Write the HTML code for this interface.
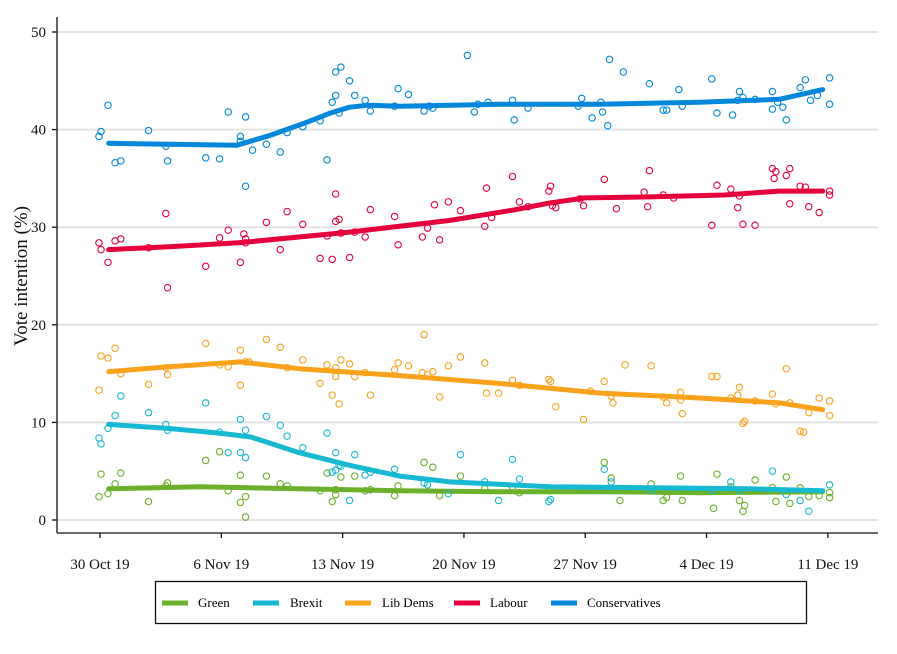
<!DOCTYPE html>
<html><head><meta charset="utf-8"><style>
body{margin:0;background:#fff}
svg{display:block;font-family:"Liberation Serif",serif}
</style></head><body>
<svg id="chart" width="897" height="654" viewBox="0 0 897 654">
<g id="grid"></g><g id="axes"></g><g id="marks"></g>
<text x="27" y="276" transform="rotate(-90 27 276)" text-anchor="middle" font-size="19" fill="#111">Vote intention (%)</text>
<g>
<rect x="155.5" y="581.5" width="651" height="42" fill="#fff" stroke="#111" stroke-width="1.3"/>
<g><line x1="162" x2="188" y1="603" y2="603" stroke="#6bb02a" stroke-width="5"/><text x="198" y="607" font-size="13">Green</text></g>
<g><line x1="253" x2="279" y1="603" y2="603" stroke="#17b8d2" stroke-width="5"/><text x="290" y="607" font-size="13">Brexit</text></g>
<g><line x1="345" x2="371" y1="603" y2="603" stroke="#faa21b" stroke-width="5"/><text x="382" y="607" font-size="13">Lib Dems</text></g>
<g><line x1="454" x2="480" y1="603" y2="603" stroke="#e5003c" stroke-width="5"/><text x="490" y="607" font-size="13">Labour</text></g>
<g><line x1="551" x2="577" y1="603" y2="603" stroke="#0087dc" stroke-width="5"/><text x="587" y="607" font-size="13">Conservatives</text></g>
</g>
</svg>
<script>
const yTicks=[0,10,20,30,40,50];
const xTickDays=[0,7,14,21,28,35,42];
const xTickLabels=["30 Oct 19","6 Nov 19","13 Nov 19","20 Nov 19","27 Nov 19","4 Dec 19","11 Dec 19"];
const partyNames=["Green","Brexit","Lib Dems","Labour","Conservatives"];
const partyColors=["#6bb02a","#17b8d2","#faa21b","#e5003c","#0087dc"];
const conPoints=[[-0.06,39.3],[0.06,39.8],[0.46,42.5],[0.87,36.6],[1.2,36.8],[2.8,39.9],[3.8,38.3],[3.9,36.8],[6.1,37.1],[6.9,37.0],[7.4,41.8],[8.1,39.3],[8.1,38.8],[8.4,41.3],[8.4,34.2],[8.8,37.9],[9.6,38.5],[10.4,37.7],[10.8,39.7],[11.7,40.3],[12.7,40.9],[13.1,36.9],[13.4,42.8],[13.6,43.5],[13.6,45.9],[13.8,41.7],[13.9,46.4],[14.4,45.0],[14.7,43.5],[15.3,43.0],[15.6,41.9],[17.0,42.4],[17.2,44.2],[17.8,43.6],[18.7,41.9],[19.0,42.4],[19.2,42.2],[21.2,47.6],[21.6,41.8],[21.8,42.6],[22.4,42.8],[23.8,43.0],[23.9,41.0],[24.7,42.2],[27.6,42.4],[27.8,43.2],[28.4,41.2],[28.9,42.8],[29.0,41.8],[29.3,40.4],[29.4,47.2],[30.2,45.9],[31.7,44.7],[32.5,42.0],[32.7,42.0],[33.4,44.1],[33.6,42.4],[35.3,45.2],[35.6,41.7],[36.5,41.5],[36.8,43.0],[36.9,43.9],[37.1,43.3],[37.8,43.1],[38.8,43.9],[38.8,42.1],[39.1,42.8],[39.4,42.3],[39.6,41.0],[40.4,44.3],[40.7,45.1],[41.0,43.0],[41.4,43.5],[42.1,45.3],[42.1,42.6]];
const labPoints=[[-0.06,28.4],[0.06,27.7],[0.46,26.4],[0.87,28.6],[1.2,28.8],[2.8,27.9],[3.8,31.4],[3.9,23.8],[6.1,26.0],[6.9,28.9],[7.4,29.7],[8.1,26.4],[8.3,29.3],[8.4,28.8],[8.4,28.4],[9.6,30.5],[10.4,27.7],[10.8,31.6],[11.7,30.3],[12.7,26.8],[13.1,29.1],[13.4,26.7],[13.6,30.6],[13.6,33.4],[13.8,30.8],[13.9,29.4],[14.4,26.9],[14.7,29.5],[15.3,29.0],[15.6,31.8],[17.0,31.1],[17.2,28.2],[18.6,29.0],[18.9,29.9],[19.3,32.3],[19.6,28.7],[20.1,32.6],[20.8,31.7],[22.2,30.1],[22.3,34.0],[22.6,31.0],[23.8,35.2],[24.2,32.6],[24.7,32.1],[25.9,33.7],[26.0,34.2],[26.1,32.2],[26.3,32.0],[27.7,32.9],[27.9,32.2],[29.1,34.9],[29.8,31.9],[31.4,33.6],[31.6,32.1],[31.7,35.8],[32.5,33.3],[33.1,33.0],[35.3,30.2],[35.6,34.3],[36.4,33.9],[36.9,33.2],[37.1,30.3],[36.8,32.0],[37.8,30.2],[38.8,36.0],[38.9,35.0],[39.0,35.7],[39.6,35.3],[39.8,36.0],[39.8,32.4],[40.4,34.2],[40.7,34.1],[40.9,32.1],[41.5,31.5],[42.1,33.7],[42.1,33.3]];
const ldPoints=[[-0.06,13.3],[0.06,16.8],[0.46,16.6],[0.87,17.6],[1.2,15.0],[2.8,13.9],[3.8,15.6],[3.9,14.9],[6.1,18.1],[6.9,15.9],[7.4,15.7],[8.1,17.4],[8.1,13.8],[8.4,16.2],[8.6,16.2],[9.6,18.5],[10.4,17.7],[10.8,15.6],[11.7,16.4],[12.7,14.0],[13.1,15.9],[13.4,12.8],[13.6,15.6],[13.6,14.7],[13.8,11.9],[13.9,16.4],[14.4,16.0],[14.7,14.7],[15.3,15.1],[15.6,12.8],[17.0,15.4],[17.2,16.1],[17.8,15.8],[18.6,15.1],[18.9,14.9],[18.7,19.0],[19.2,15.2],[19.6,12.6],[20.1,15.8],[20.8,16.7],[22.2,16.1],[22.3,13.0],[23.0,13.0],[23.8,14.3],[24.2,13.8],[25.9,14.4],[26.0,14.2],[26.3,11.6],[27.9,10.3],[28.3,13.2],[29.1,14.2],[29.5,12.7],[29.6,12.0],[30.3,15.9],[31.8,15.8],[32.5,12.6],[32.7,12.0],[33.5,12.3],[33.5,13.1],[33.6,10.9],[35.3,14.7],[35.6,14.7],[36.4,12.5],[36.8,12.8],[36.9,13.6],[37.1,9.9],[37.2,10.1],[37.8,12.2],[38.8,12.9],[39.0,11.9],[39.6,15.5],[39.8,12.0],[40.4,9.1],[40.6,9.0],[40.9,11.0],[41.5,12.5],[42.1,12.2],[42.1,10.7]];
const brxPoints=[[-0.06,8.4],[0.06,7.8],[0.46,9.4],[0.87,10.7],[1.2,12.7],[2.8,11.0],[3.8,9.8],[3.9,9.2],[6.1,12.0],[6.9,9.0],[7.4,6.9],[8.1,10.3],[8.1,6.9],[8.4,9.2],[8.4,6.4],[9.6,10.6],[10.4,9.7],[10.8,8.6],[11.7,7.4],[13.1,8.9],[13.4,4.9],[13.6,5.1],[13.6,6.9],[13.8,5.6],[13.9,5.5],[14.4,2.0],[14.7,6.7],[15.3,4.6],[15.6,4.9],[17.0,5.2],[18.7,3.8],[18.9,3.6],[20.1,2.7],[20.8,6.7],[22.2,3.9],[23.0,2.0],[23.8,6.2],[24.2,4.2],[25.9,1.9],[26.0,2.1],[29.1,5.2],[29.5,3.9],[31.8,3.0],[35.3,3.0],[36.4,3.9],[36.9,3.0],[38.8,5.0],[39.6,2.6],[40.4,2.0],[40.9,0.9],[42.1,3.6]];
const grnPoints=[[-0.06,2.4],[0.06,4.7],[0.46,2.7],[0.87,3.7],[1.2,4.8],[2.8,1.9],[3.8,3.5],[3.9,3.8],[6.1,6.1],[6.9,7.0],[7.4,3.0],[8.1,4.6],[8.1,1.8],[8.4,2.4],[8.4,0.3],[9.6,4.5],[10.4,3.7],[10.8,3.5],[12.7,3.0],[13.1,4.8],[13.4,1.9],[13.6,2.6],[13.6,3.1],[13.9,4.4],[14.7,4.5],[15.3,3.0],[15.6,3.1],[17.0,2.5],[17.2,3.5],[18.7,5.9],[19.2,5.4],[19.6,2.5],[20.8,4.5],[22.2,3.2],[23.8,3.4],[24.2,2.8],[25.9,3.0],[29.1,5.9],[29.5,4.3],[30.0,2.0],[31.8,3.7],[32.5,2.0],[32.7,2.3],[33.5,4.5],[33.6,2.0],[35.3,3.1],[35.6,4.7],[35.4,1.2],[36.4,3.4],[36.9,2.0],[37.1,0.9],[37.2,1.5],[37.8,4.1],[38.8,3.3],[39.0,1.9],[39.6,4.4],[39.8,1.7],[40.4,3.3],[40.9,2.4],[41.5,2.5],[42.1,2.8],[42.1,2.3]];
const conTrend=[[0.5,38.6],[4,38.5],[7.9,38.4],[9.8,39.4],[12,40.8],[13.3,41.7],[14.4,42.3],[15.5,42.5],[17.3,42.4],[23.1,42.6],[28.9,42.6],[34.6,42.8],[39.2,43.1],[41.7,44.1]];
const labTrend=[[0.5,27.7],[4,28.0],[8,28.4],[14.4,29.5],[20.2,30.7],[24,31.8],[26,32.5],[28,33.0],[31.7,33.1],[36,33.3],[39.2,33.7],[41.7,33.7]];
const ldTrend=[[0.5,15.2],[4,15.7],[8.1,16.2],[11.5,15.5],[17.3,14.8],[23,14.0],[28.9,13.0],[34.6,12.5],[39.2,12.0],[41.7,11.3]];
const brxTrend=[[0.5,9.8],[3.8,9.4],[6.9,8.9],[8.7,8.5],[11.5,6.9],[14.4,5.6],[17.3,4.5],[20.2,3.9],[26,3.4],[31.7,3.3],[37.5,3.2],[41.7,3.0]];
const grnTrend=[[0.5,3.2],[5.8,3.4],[11.5,3.2],[17.3,3.0],[23,2.9],[28.9,2.9],[34.6,2.8],[41.7,2.9]];

const NS="http://www.w3.org/2000/svg";
const X=d=>100+d*17.33, Y=v=>520-v*9.76;
function mk(tag,attrs,parent){const e=document.createElementNS(NS,tag);for(const k in attrs)e.setAttribute(k,attrs[k]);parent.appendChild(e);return e;}
const grid=document.getElementById('grid'),axes=document.getElementById('axes'),marks=document.getElementById('marks');
yTicks.forEach(t=>{
 const g=mk('line',{x1:57,x2:878,y1:Y(t),y2:Y(t),stroke:'#e3e3e3','stroke-width':2},grid);
 
 
 const tk=mk('line',{x1:52,x2:57,y1:Y(t),y2:Y(t),stroke:'#111','stroke-width':1.3},axes);
 
 
 const tx=mk('text',{x:46,y:Y(t)+5,'text-anchor':'end','font-size':15,fill:'#111'},axes);
 tx.textContent=t;
 
 
});
xTickDays.forEach((d,i)=>{
 const tk=mk('line',{x1:X(d),x2:X(d),y1:533,y2:538,stroke:'#111','stroke-width':1.3},axes);
 
 
 const tx=mk('text',{x:X(d),y:569,'text-anchor':'middle','font-size':15,fill:'#111'},axes);
 tx.textContent=xTickLabels[i];
 
 
});
const ya=mk('line',{x1:57,x2:57,y1:17,y2:533,stroke:'#111','stroke-width':1.3},axes);


const xa=mk('line',{x1:57,x2:878,y1:533,y2:533,stroke:'#111','stroke-width':1.3},axes);


const series=[[grnPoints,grnTrend],[brxPoints,brxTrend],[ldPoints,ldTrend],[labPoints,labTrend],[conPoints,conTrend]];
series.forEach((s,i)=>{
 const key=partyNames[i].toLowerCase().replace(/ /g,'-');
 const g=mk('g',{},marks);
 
 
 s[0].forEach(p=>{
  const c=mk('circle',{cx:X(p[0]),cy:Y(p[1]),r:3.2,fill:'none',stroke:partyColors[i],'stroke-width':1.1},g);
  
  
 });
 const d=s[1].map((p,j)=>(j?'L':'M')+X(p[0]).toFixed(1)+' '+Y(p[1]).toFixed(1)).join(' ');
 const l=mk('path',{d:d,fill:'none',stroke:partyColors[i],'stroke-width':5,'stroke-linejoin':'round','stroke-linecap':'round'},g);
 
 
});
</script>
</body></html>
